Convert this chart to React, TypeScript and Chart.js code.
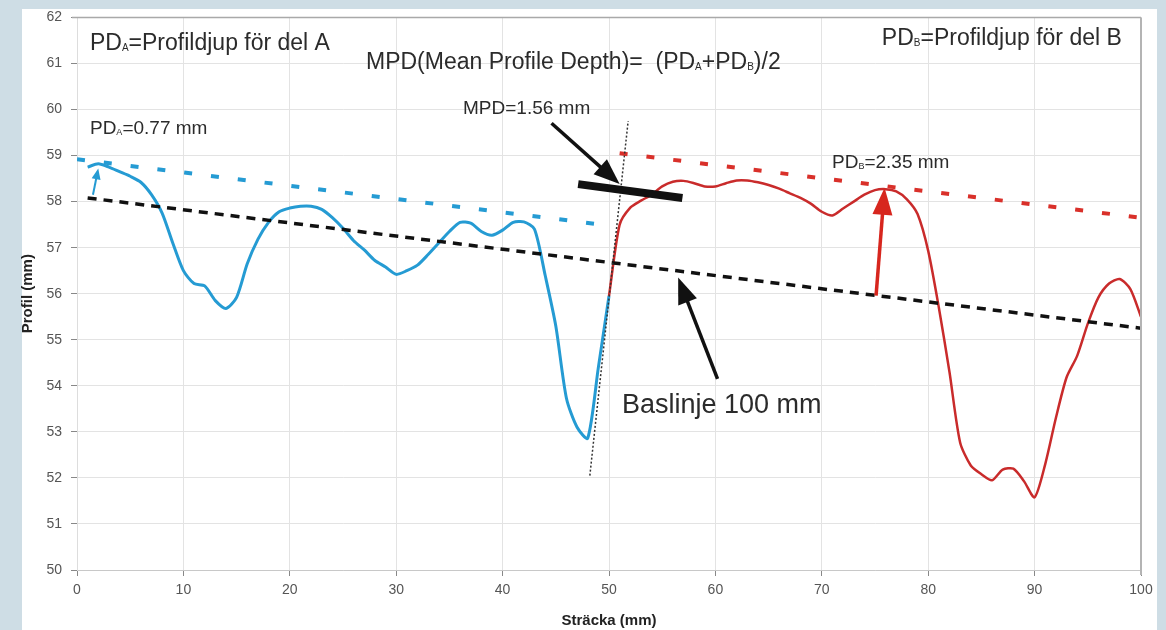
import React, { useEffect, useRef } from "react";
import { Chart, registerables } from "chart.js";

Chart.register(...registerables);

// ---------- data ----------
const blueX = [1, 2, 3, 4, 5, 6, 7, 8, 9, 10, 11, 12, 13, 14, 15, 16, 17, 18, 19, 20, 21, 22, 23, 24, 25, 26, 27, 28, 29, 30, 31, 32, 33, 34, 35, 36, 37, 38, 39, 40, 41, 42, 43, 44, 45, 46, 47, 48, 49, 50];
const blueY = [58.75, 58.82, 58.75, 58.65, 58.55, 58.42, 58.15, 57.75, 57.1, 56.5, 56.22, 56.17, 55.85, 55.68, 55.92, 56.65, 57.18, 57.55, 57.78, 57.86, 57.9, 57.9, 57.83, 57.65, 57.42, 57.15, 56.95, 56.72, 56.58, 56.42, 56.5, 56.62, 56.85, 57.1, 57.35, 57.55, 57.53, 57.35, 57.27, 57.38, 57.55, 57.56, 57.4, 56.4, 55.3, 53.73, 53.1, 52.86, 54.4, 55.95];

const redX = [50, 51, 52, 53, 54, 55, 56, 57, 58, 59, 60, 61, 62, 63, 64, 65, 66, 67, 68, 69, 70, 71, 72, 73, 74, 75, 76, 77, 78, 79, 80, 81, 82, 83, 84, 85, 86, 87, 88, 89, 90, 91, 92, 93, 94, 95, 96, 97, 98, 99, 100];
const redY = [55.95, 57.5, 57.87, 58.02, 58.15, 58.33, 58.43, 58.45, 58.4, 58.33, 58.33, 58.4, 58.46, 58.46, 58.42, 58.36, 58.28, 58.18, 58.08, 57.95, 57.78, 57.7, 57.85, 58.0, 58.15, 58.25, 58.27, 58.22, 58.05, 57.73, 56.93, 55.7, 54.3, 52.77, 52.27, 52.08, 51.95, 52.18, 52.2, 51.93, 51.58, 52.3, 53.3, 54.18, 54.65, 55.35, 55.92, 56.22, 56.32, 56.1, 55.5];

const baselineX = [1, 100];
const baselineY = [58.08, 55.25];
const pdALevelX = [0, 50];
const pdALevelY = [58.92, 57.48];
const pdBLevelX = [51, 100];
const pdBLevelY = [59.05, 57.65];
const splitX = [48.2, 51.8];
const splitY = [52.05, 59.75];
const mpdMarkX = [47.1, 56.9];
const mpdMarkY = [58.38, 58.08];

const xTicks = [0, 10, 20, 30, 40, 50, 60, 70, 80, 90, 100];
const yTicks = [50, 51, 52, 53, 54, 55, 56, 57, 58, 59, 60, 61, 62];

// arrows: [tailX, tailY, tipX, tipY]
const arrowPdA = [1.5, 58.15, 2.0, 58.72];
const arrowMpd = [44.6, 59.7, 51.0, 58.38];
const arrowBase = [60.2, 54.15, 56.5, 56.35];
const arrowPdB = [75.1, 55.96, 75.9, 58.3];

// ---------- styles ----------
const FONT = "'Liberation Sans', Arial, Helvetica, sans-serif";
const BLUE = "#259bd3";
const RED = "#c92b2b";
const RED_DASH = "#d9302a";
const TEXT = "#2b2b2b";

type Seg = { t: string; sub?: boolean };
type Label = { segs: Seg[]; x: number; y: number; size: number; align: "left" | "right" };

const labels: Label[] = [
  { segs: [{ t: "PD" }, { t: "A", sub: true }, { t: "=Profildjup för del A" }], x: 1.22, y: 61.29, size: 23, align: "left" },
  { segs: [{ t: "MPD(Mean Profile Depth)=  (PD" }, { t: "A", sub: true }, { t: "+PD" }, { t: "B", sub: true }, { t: ")/2" }], x: 27.16, y: 60.87, size: 23, align: "left" },
  { segs: [{ t: "PD" }, { t: "B", sub: true }, { t: "=Profildjup för del B" }], x: 98.2, y: 61.4, size: 23, align: "right" },
  { segs: [{ t: "PD" }, { t: "A", sub: true }, { t: "=0.77 mm" }], x: 1.22, y: 59.47, size: 19, align: "left" },
  { segs: [{ t: "MPD=1.56 mm" }], x: 36.28, y: 59.9, size: 19, align: "left" },
  { segs: [{ t: "PD" }, { t: "B", sub: true }, { t: "=2.35 mm" }], x: 70.96, y: 58.73, size: 19, align: "left" },
  { segs: [{ t: "Baslinje 100 mm" }], x: 51.22, y: 53.42, size: 27, align: "left" },
];

const pts = (xs: number[], ys: number[]) => xs.map((x, i) => ({ x, y: ys[i] }));

const bgPlugin = {
  id: "bgPanel",
  beforeDraw(chart: any) {
    const ctx = chart.ctx;
    ctx.save();
    ctx.fillStyle = "#cedde5";
    ctx.fillRect(0, 0, chart.width, chart.height);
    ctx.fillStyle = "#ffffff";
    ctx.fillRect(22, 9, 1135, chart.height - 9);
    ctx.restore();
  },
  afterDraw(chart: any) {
    const { ctx, chartArea } = chart;
    ctx.save();
    ctx.strokeStyle = "#a9a9a9";
    ctx.lineWidth = 1.5;
    ctx.beginPath();
    ctx.moveTo(chartArea.left - 5, chartArea.top);
    ctx.lineTo(chartArea.right, chartArea.top);
    ctx.stroke();
    ctx.lineWidth = 2;
    ctx.strokeStyle = "#b4b4b4";
    ctx.beginPath();
    ctx.moveTo(chartArea.right, chartArea.top);
    ctx.lineTo(chartArea.right, chartArea.bottom + 5);
    ctx.stroke();
    ctx.restore();
  },
};

function drawArrow(ctx: CanvasRenderingContext2D, x0: number, y0: number, x1: number, y1: number, color: string, w: number, headLen: number, headW: number) {
  const ang = Math.atan2(y1 - y0, x1 - x0);
  const bx = x1 - Math.cos(ang) * headLen;
  const by = y1 - Math.sin(ang) * headLen;
  ctx.save();
  ctx.strokeStyle = color;
  ctx.fillStyle = color;
  ctx.lineWidth = w;
  ctx.lineCap = "butt";
  ctx.beginPath();
  ctx.moveTo(x0, y0);
  ctx.lineTo(bx + Math.cos(ang) * 2, by + Math.sin(ang) * 2);
  ctx.stroke();
  const px = -Math.sin(ang) * headW / 2;
  const py = Math.cos(ang) * headW / 2;
  ctx.beginPath();
  ctx.moveTo(x1, y1);
  ctx.lineTo(bx + px, by + py);
  ctx.lineTo(bx - px, by - py);
  ctx.closePath();
  ctx.fill();
  ctx.restore();
}

const annoPlugin = {
  id: "annotations",
  afterDatasetsDraw(chart: any) {
    const { ctx } = chart;
    const xs = chart.scales.x;
    const ys = chart.scales.y;
    const P = (a: number[]) => [xs.getPixelForValue(a[0]), ys.getPixelForValue(a[1]), xs.getPixelForValue(a[2]), ys.getPixelForValue(a[3])];
    let a = P(arrowPdA);
    drawArrow(ctx, a[0], a[1], a[2], a[3], BLUE, 2, 11, 9);
    a = P(arrowMpd);
    drawArrow(ctx, a[0], a[1], a[2], a[3], "#111", 3.5, 26, 20);
    a = P(arrowBase);
    drawArrow(ctx, a[0], a[1], a[2], a[3], "#111", 3.5, 26, 20);
    a = P(arrowPdB);
    drawArrow(ctx, a[0], a[1], a[2], a[3], "#d7261e", 3.5, 27, 20);

    ctx.save();
    ctx.fillStyle = TEXT;
    ctx.textBaseline = "alphabetic";
    ctx.textAlign = "left";
    for (const lb of labels) {
      const subSize = Math.round(lb.size * 0.45);
      let total = 0;
      for (const s of lb.segs) {
        ctx.font = `${s.sub ? subSize : lb.size}px ${FONT}`;
        total += ctx.measureText(s.t).width;
      }
      let x = xs.getPixelForValue(lb.x);
      if (lb.align === "right") x -= total;
      const y = ys.getPixelForValue(lb.y);
      for (const s of lb.segs) {
        ctx.font = `${s.sub ? subSize : lb.size}px ${FONT}`;
        ctx.fillText(s.t, x, s.sub ? y + 1 : y);
        x += ctx.measureText(s.t).width;
      }
    }
    ctx.restore();
  },
};

export default function App() {
  const ref = useRef<HTMLCanvasElement | null>(null);
  useEffect(() => {
    if (!ref.current) return;
    const chart = new Chart(ref.current, {
      type: "line",
      data: {
        datasets: [
          { data: pts(mpdMarkX, mpdMarkY), borderColor: "#111", borderWidth: 8, pointRadius: 0, borderCapStyle: "butt" },
          { data: pts(splitX, splitY), borderColor: "#333", borderWidth: 1.5, borderDash: [2, 2], pointRadius: 0 },
          { data: pts(baselineX, baselineY), borderColor: "#111", borderWidth: 3.5, borderDash: [9, 7], pointRadius: 0 },
          { data: pts(pdALevelX, pdALevelY), borderColor: BLUE, borderWidth: 4, borderDash: [8, 19], pointRadius: 0 },
          { data: pts(pdBLevelX, pdBLevelY), borderColor: RED_DASH, borderWidth: 4, borderDash: [8, 19], pointRadius: 0 },
          { data: pts(redX, redY), borderColor: RED, borderWidth: 2.5, pointRadius: 0, tension: 0.25 },
          { data: pts(blueX, blueY), borderColor: BLUE, borderWidth: 3, pointRadius: 0, tension: 0.25 },
        ] as any,
      },
      options: {
        animation: false,
        responsive: false,
        devicePixelRatio: 1,
        parsing: false as any,
        layout: { padding: { left: 0, top: 16, right: 25, bottom: 0 } },
        plugins: { legend: { display: false }, tooltip: { enabled: false } },
        scales: {
          x: {
            type: "linear",
            min: 0,
            max: 100,
            afterBuildTicks: (s: any) => { s.ticks = xTicks.map((v) => ({ value: v })); },
            afterFit: (s: any) => { s.height = 60; },
            ticks: { font: { family: FONT, size: 14 }, color: "#555", padding: 6, maxRotation: 0, autoSkip: false },
            grid: { color: "#e3e3e3", tickColor: "#888", tickLength: 6, lineWidth: 1 },
            border: { color: "#c8c8c8", width: 1 },
            title: { display: true, text: "Sträcka (mm)", font: { family: FONT, size: 15, weight: "bold" }, color: "#222", padding: 0 },
          },
          y: {
            type: "linear",
            min: 50,
            max: 62,
            afterBuildTicks: (s: any) => { s.ticks = yTicks.map((v) => ({ value: v })); },
            afterFit: (s: any) => { s.width = 77; },
            ticks: { font: { family: FONT, size: 14 }, color: "#555", padding: 9, autoSkip: false },
            grid: { color: "#e3e3e3", tickColor: "#888", tickLength: 6, lineWidth: 1 },
            border: { color: "#dddddd", width: 1 },
            title: { display: true, text: "Profil (mm)", font: { family: FONT, size: 15, weight: "bold" }, color: "#222", padding: { top: 19, bottom: 0 } },
          },
        },
      } as any,
      plugins: [bgPlugin, annoPlugin],
    });
    return () => chart.destroy();
  }, []);
  return (
    <div style={{ position: "fixed", left: 0, top: 0, width: 1166, height: 630 }}>
      <canvas ref={ref} width={1166} height={630} style={{ width: 1166, height: 630, display: "block" }} />
    </div>
  );
}
